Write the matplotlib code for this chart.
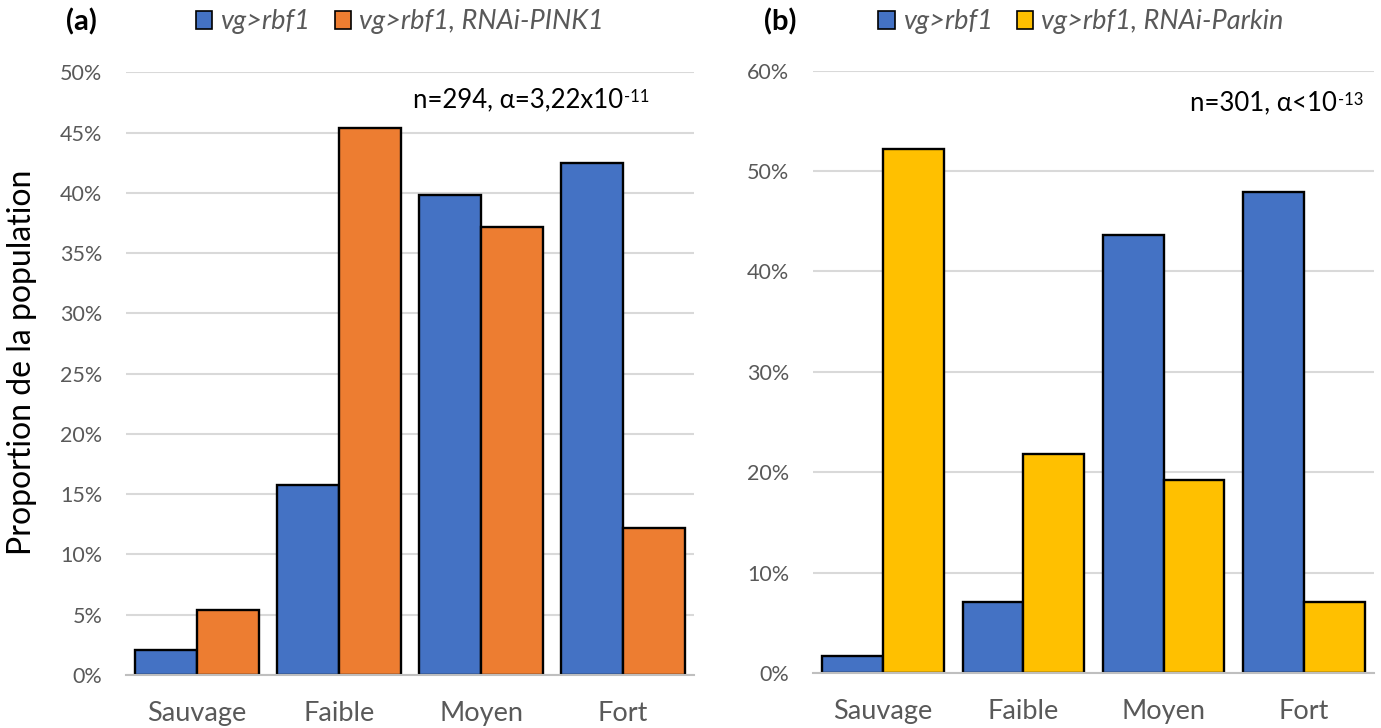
import matplotlib
matplotlib.use("Agg")
import matplotlib.pyplot as plt
import numpy as np
from matplotlib.patches import Patch
from matplotlib.ticker import FuncFormatter, MultipleLocator

plt.rcParams['font.family'] = ['Lato', 'DejaVu Sans']

categories = ["Sauvage", "Faible", "Moyen", "Fort"]
a_ctrl = [2.1, 15.8, 39.8, 42.5]
a_pink1 = [5.4, 45.4, 37.2, 12.2]
b_ctrl = [1.7, 7.1, 43.6, 47.9]
b_parkin = [52.2, 21.8, 19.2, 7.1]
a_labels = ["vg>rbf1", "vg>rbf1, RNAi-PINK1"]
b_labels = ["vg>rbf1", "vg>rbf1, RNAi-Parkin"]

BLUE = "#4472C4"
ORANGE = "#ED7D31"
YELLOW = "#FFC000"
GRAY_TXT = "#595959"
GRID = "#D9D9D9"

W, H = 1381, 728
fig = plt.figure(figsize=(W / 100, H / 100), dpi=100)

def fx(px):
    return px / W

def fy(py):
    return 1 - py / H

ax_a = fig.add_axes([fx(126), fy(675), fx(694 - 126), (675 - 72.3) / H])
ax_b = fig.add_axes([fx(813), fy(673), fx(1374 - 813), (673 - 70.7) / H])

def draw(ax, s1, s2, c2, ymax, step):
    x = np.arange(len(categories))
    bw = 0.434
    ax.bar(x - bw / 2, s1, bw, color=BLUE, edgecolor="black", linewidth=1.7, zorder=3)
    ax.bar(x + bw / 2, s2, bw, color=c2, edgecolor="black", linewidth=1.7, zorder=3)
    ax.set_xlim(-0.5, len(categories) - 0.5)
    ax.set_ylim(0, ymax)
    ax.yaxis.set_major_locator(MultipleLocator(step))
    ax.yaxis.set_major_formatter(FuncFormatter(lambda v, p: f"{v:.0f}%"))
    ax.grid(axis="y", color=GRID, linewidth=1.5, zorder=0)
    for s in ["top", "right", "left"]:
        ax.spines[s].set_visible(False)
    ax.spines["bottom"].set_color("#BFBFBF")
    ax.spines["bottom"].set_linewidth(1.5)
    ax.spines["bottom"].set_zorder(4)
    ax.set_xticks(x)
    ax.set_xticklabels(categories)
    ax.tick_params(axis="x", length=0, pad=19, labelsize=19.5, labelcolor=GRAY_TXT)
    ax.tick_params(axis="y", length=0, pad=17, labelsize=15.5, labelcolor=GRAY_TXT)

draw(ax_a, a_ctrl, a_pink1, ORANGE, 50, 5)
draw(ax_b, b_ctrl, b_parkin, YELLOW, 60, 10)

fig.text(fx(22), fy(362), "Proportion de la population", rotation=90,
         ha="center", va="center", fontsize=23, color="black")

# panel labels
fig.text(fx(81), fy(22), "(a)", ha="center", va="center", fontsize=21, fontweight="bold")
fig.text(fx(780), fy(22), "(b)", ha="center", va="center", fontsize=21, fontweight="bold")

def legend(center_x, labels, c2):
    handles = [Patch(facecolor=BLUE, edgecolor="black", linewidth=1.2),
               Patch(facecolor=c2, edgecolor="black", linewidth=1.2)]
    leg = fig.legend(handles, labels, loc="center", bbox_to_anchor=(fx(center_x), fy(22)),
                     ncol=2, frameon=False, handlelength=0.6, handleheight=0.6,
                     handletextpad=0.3, columnspacing=0.9,
                     prop={"size": 19.5, "style": "italic"})
    for t in leg.get_texts():
        t.set_color(GRAY_TXT)

legend(400, a_labels, ORANGE)
legend(1081, b_labels, YELLOW)

def note(x_left, y_center, main, sup):
    t = fig.text(fx(x_left), fy(y_center), main, ha="left", va="center", fontsize=18.5, color="black")
    plt.annotate(sup, xy=(1, 1), xycoords=t, xytext=(0.5, -1), textcoords="offset points",
                 ha="left", va="top", fontsize=12, color="black", annotation_clip=False)
    return t

note(413, 100, "n=294, α=3,22x10", "-11")
note(1190, 103, "n=301, α<10", "-13")

fig.savefig("out.png", dpi=100)
